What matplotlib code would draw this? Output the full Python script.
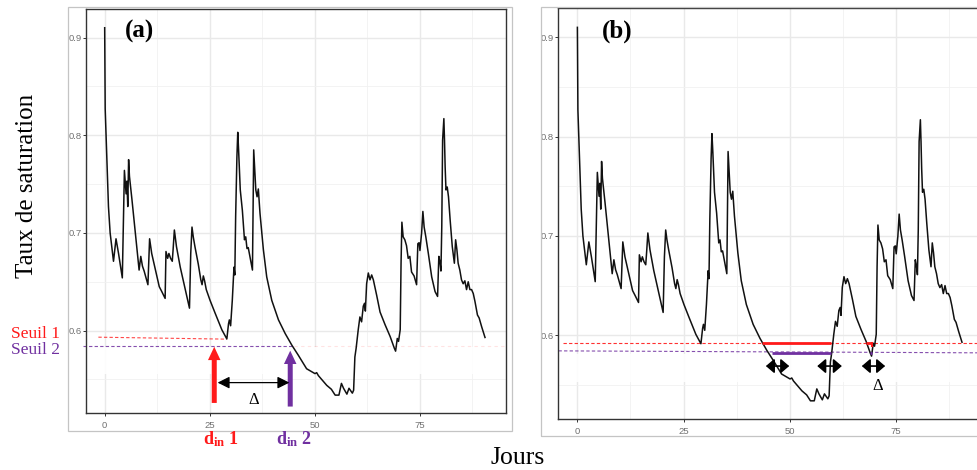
import matplotlib
matplotlib.use("Agg")
import matplotlib.pyplot as plt
from matplotlib.patches import Rectangle
from matplotlib.ticker import MultipleLocator, FormatStrFormatter

plt.rcParams['mathtext.fontset'] = 'custom'
plt.rcParams['mathtext.rm'] = 'Liberation Serif'
plt.rcParams['mathtext.bf'] = 'Liberation Serif:bold'
plt.rcParams['mathtext.it'] = 'Liberation Serif:italic'

# ---------------- data ----------------
days = [0.0, 0.12, 0.5, 0.9, 1.3, 2.1, 2.7, 3.3, 4.2, 4.4, 4.7, 5.1, 5.3, 5.5, 5.7, 5.9,
        6.5, 7.3, 8.2, 8.6, 9.0, 9.4, 10.3, 10.7, 11.2, 12.0, 13.0, 13.6, 14.4, 14.6,
        15.0, 15.3, 15.7, 16.1, 16.3, 16.6, 17.1, 18.0, 19.2, 20.2, 20.5, 20.8, 21.1,
        21.5, 22.3, 22.9, 23.2, 23.5, 23.8, 24.2, 25.1, 26.3, 27.9, 29.1, 29.5, 29.7,
        30.0, 30.4, 30.8, 31.0, 31.2, 31.5, 31.7, 31.9, 32.3, 32.8, 33.3, 33.6, 33.9,
        34.2, 34.6, 35.2, 35.5, 35.7, 36.0, 36.3, 36.6, 37.0, 37.8, 38.6, 39.8, 41.4,
        43.0, 44.6, 46.1, 48.1, 50.1, 50.5, 50.9, 52.9, 54.0, 54.9, 55.8, 56.4, 56.9,
        57.7, 58.2, 59.0, 59.3, 59.6, 59.9, 60.4, 60.8, 61.2, 61.6, 61.9, 62.1, 62.4,
        62.8, 63.2, 63.6, 64.0, 64.8, 65.6, 66.8, 68.0, 69.0, 69.3, 69.7, 70.0, 70.4,
        70.6, 70.8, 71.1, 71.5, 71.9, 72.3, 72.7, 73.1, 73.7, 74.3, 74.6, 74.9, 75.1,
        75.5, 75.8, 76.1, 76.5, 77.1, 77.9, 78.7, 79.3, 79.6, 79.9, 80.1, 80.3, 80.5,
        80.8, 80.95, 81.1, 81.3, 81.6, 81.9, 82.3, 82.8, 83.3, 83.6, 83.9, 84.2, 84.6,
        85.0, 85.4, 85.8, 86.2, 86.6, 87.0, 87.4, 87.8, 88.2, 88.8, 89.2, 89.8, 90.6]
saturation = [0.910, 0.827, 0.778, 0.727, 0.700, 0.671, 0.694, 0.679, 0.654, 0.700, 0.764,
              0.740, 0.753, 0.727, 0.775, 0.758, 0.734, 0.700, 0.662, 0.676, 0.666, 0.661,
              0.647, 0.694, 0.679, 0.664, 0.645, 0.640, 0.633, 0.681, 0.674, 0.679, 0.674,
              0.671, 0.683, 0.703, 0.686, 0.665, 0.642, 0.623, 0.679, 0.706, 0.696, 0.686,
              0.668, 0.652, 0.647, 0.656, 0.651, 0.642, 0.631, 0.618, 0.601, 0.5915, 0.607,
              0.611, 0.605, 0.631, 0.665, 0.657, 0.717, 0.778, 0.803, 0.785, 0.744, 0.723,
              0.693, 0.696, 0.684, 0.685, 0.676, 0.662, 0.785, 0.768, 0.744, 0.737, 0.745,
              0.720, 0.683, 0.655, 0.631, 0.611, 0.597, 0.585, 0.575, 0.561, 0.556, 0.557,
              0.554, 0.544, 0.540, 0.534, 0.534, 0.546, 0.541, 0.535, 0.541, 0.536, 0.539,
              0.573, 0.582, 0.601, 0.614, 0.609, 0.625, 0.628, 0.620, 0.648, 0.659, 0.652,
              0.657, 0.652, 0.636, 0.619, 0.606, 0.594, 0.582, 0.579, 0.592, 0.589, 0.601,
              0.669, 0.711, 0.696, 0.693, 0.687, 0.674, 0.676, 0.660, 0.656, 0.647, 0.689,
              0.690, 0.682, 0.700, 0.722, 0.706, 0.696, 0.679, 0.655, 0.640, 0.635, 0.676,
              0.669, 0.661, 0.706, 0.795, 0.817, 0.795, 0.768, 0.744, 0.747, 0.737, 0.713,
              0.686, 0.669, 0.693, 0.683, 0.669, 0.662, 0.652, 0.648, 0.651, 0.642, 0.650,
              0.642, 0.642, 0.638, 0.630, 0.616, 0.613, 0.604, 0.593]

x_ticks = [0, 25, 50, 75]
y_ticks = [0.6, 0.7, 0.8, 0.9]
seuil_1 = 0.5925
seuil_2 = 0.5843
d_in_1 = 26.1
d_in_2 = 44.2
# panel (b) periods below thresholds
b_red_periods = [(43.6, 59.7), (67.9, 69.4)]
b_purple_periods = [(45.8, 59.7), (69.0, 69.5)]
b_delta_arrows = [(44.4, 49.9), (56.5, 62.3), (67.0, 72.5)]

RED = '#FF1A1A'
PURPLE = '#7030A0'

W, H = 978, 470
fig = plt.figure(figsize=(W / 100, H / 100), dpi=100)


def fx(px):
    return px / W


def fy(py):
    return 1 - py / H


def make_axes(left, right, top, bottom):
    ax = fig.add_axes([fx(left), fy(bottom), fx(right) - fx(left), (bottom - top) / H])
    ax.set_facecolor('white')
    ax.set_axisbelow(True)
    ax.set_xlim(-4.45, 95.6)
    ax.set_ylim(0.5157, 0.9295)
    ax.xaxis.set_major_locator(MultipleLocator(25))
    ax.xaxis.set_minor_locator(MultipleLocator(12.5))
    ax.yaxis.set_major_locator(MultipleLocator(0.1))
    ax.yaxis.set_minor_locator(MultipleLocator(0.05))
    ax.set_xticks(x_ticks)
    ax.set_yticks(y_ticks)
    ax.yaxis.set_major_formatter(FormatStrFormatter('%.1f'))
    ax.grid(which='major', color='#e9e9e9', lw=1.0)
    ax.grid(which='minor', color='#f1f1f1', lw=0.6)
    for s in ax.spines.values():
        s.set_color('#333333')
        s.set_linewidth(1.0)
    ax.tick_params(which='major', length=2.2, width=0.7, color='#333333',
                   labelsize=6.8, labelcolor='#707070')
    ax.tick_params(axis='x', pad=3.5)
    ax.tick_params(axis='y', pad=1.0)
    ax.tick_params(which='minor', length=0)
    for lab in ax.get_xticklabels() + ax.get_yticklabels():
        lab.set_fontfamily('Liberation Sans')
    return ax


# outer frames of the two ggplot images
fig.add_artist(Rectangle((fx(68), fy(431)), fx(511.7) - fx(68), (431 - 7) / H,
                         transform=fig.transFigure, fill=False, ec='#c4c4c4', lw=0.9))
fig.add_artist(Rectangle((fx(541), fy(436)), fx(1000) - fx(541), (436 - 7) / H,
                         transform=fig.transFigure, fill=False, ec='#c4c4c4', lw=0.9))

# ---------------- panel (a) ----------------
axa = make_axes(86, 506, 8.7, 413)
axa.add_patch(Rectangle((-4.45, 0.556), 100, 0.027, fc='white', ec='none', alpha=0.9, zorder=1))
axa.plot(days, saturation, color='#111111', lw=1.1, zorder=3)
axa.plot([-1.5, 29.1], [0.5933, 0.5913], color=RED, lw=0.8, ls=(0, (3, 2)), alpha=0.8, zorder=2)
axa.plot([-5.2, 45.0], [seuil_2, seuil_2], color=PURPLE, lw=0.8, ls=(0, (3, 2)),
         alpha=0.85, zorder=2, clip_on=False)
axa.plot([45.0, 95.6], [seuil_2, seuil_2], color=RED, lw=0.8, ls=(0, (3, 3)), alpha=0.12, zorder=2)

arrow_style = 'simple,head_length=0.8,head_width=0.75,tail_width=0.3'
axa.annotate('', xy=(d_in_1, 0.5835), xytext=(d_in_1, 0.526),
             arrowprops=dict(arrowstyle=arrow_style, mutation_scale=12,
                             fc=RED, ec=RED, lw=0, shrinkA=0, shrinkB=0), zorder=5)
axa.annotate('', xy=(d_in_2, 0.5795), xytext=(d_in_2, 0.5223),
             arrowprops=dict(arrowstyle=arrow_style, mutation_scale=12,
                             fc=PURPLE, ec=PURPLE, lw=0, shrinkA=0, shrinkB=0), zorder=5)
axa.annotate('', xy=(44.0, 0.5468), xytext=(26.9, 0.5468),
             arrowprops=dict(arrowstyle='<|-|>,head_length=0.6,head_width=0.3',
                             mutation_scale=12, color='black', lw=0.9,
                             shrinkA=0, shrinkB=0), zorder=5)
axa.text(35.4, 0.529, '\u0394', ha='center', va='center', fontsize=12,
         family='Liberation Serif', color='black')

# ---------------- panel (b) ----------------
axb = make_axes(558.5, 558.5 + 100.05 * 4.245, 8, 419)
axb.add_patch(Rectangle((-4.45, 0.553), 100, 0.028, fc='white', ec='none', alpha=0.9, zorder=1))
axb.plot(days, saturation, color='#111111', lw=1.1, zorder=3)
axb.plot([-3.5, 95.6], [seuil_1, seuil_1], color=RED, lw=0.8, ls=(0, (3, 2)), alpha=0.9, zorder=2)
axb.plot([-4.45, 95.6], [seuil_2, seuil_2 - 0.002], color=PURPLE, lw=0.8, ls=(0, (3, 2)),
         alpha=0.85, zorder=2)
for a0, a1 in b_red_periods:
    axb.plot([a0, a1], [seuil_1, seuil_1], color=RED, lw=2.0, solid_capstyle='butt', zorder=4)
axb.plot([69.4, 69.4], [seuil_1, 0.589], color=RED, lw=1.5, zorder=4)
for a0, a1 in b_purple_periods:
    axb.plot([a0, a1], [0.5818, 0.5818], color=PURPLE, lw=2.0, solid_capstyle='butt', zorder=4)
for a0, a1 in b_delta_arrows:
    axb.annotate('', xy=(a1, 0.569), xytext=(a0, 0.569),
                 arrowprops=dict(arrowstyle='<|-|>,head_length=0.42,head_width=0.36',
                                 mutation_scale=12, color='black', lw=1.2,
                                 shrinkA=0, shrinkB=0), zorder=5)
axb.text(70.7, 0.5493, '\u0394', ha='center', va='center', fontsize=12,
         family='Liberation Serif', color='black')

# ---------------- figure texts ----------------
fig.text(fx(140), fy(31), '(a)', ha='center', va='center', fontsize=18,
         family='Liberation Serif', fontweight='bold')
fig.text(fx(617), fy(31.5), '(b)', ha='center', va='center', fontsize=18,
         family='Liberation Serif', fontweight='bold')
fig.text(fx(27), fy(186), 'Taux de saturation', rotation=90, ha='center', va='center',
         fontsize=18, family='Liberation Serif')
fig.text(fx(517.5), fy(458), 'Jours', ha='center', va='center', fontsize=18.5,
         family='Liberation Serif')
fig.text(fx(11), fy(334), 'Seuil 1', ha='left', va='center', fontsize=12.5,
         family='Liberation Serif', color=RED)
fig.text(fx(11), fy(350), 'Seuil 2', ha='left', va='center', fontsize=12.5,
         family='Liberation Serif', color=PURPLE)
fig.text(fx(203), fy(444), r'$\mathbf{d}_{\mathbf{in}}$ 1', ha='left', va='baseline',
         fontsize=13, family='Liberation Serif', fontweight='bold', color=RED)
fig.text(fx(276.5), fy(444), r'$\mathbf{d}_{\mathbf{in}}$ 2', ha='left', va='baseline',
         fontsize=13, family='Liberation Serif', fontweight='bold', color=PURPLE)

fig.savefig('out.png', dpi=100, facecolor='white')
